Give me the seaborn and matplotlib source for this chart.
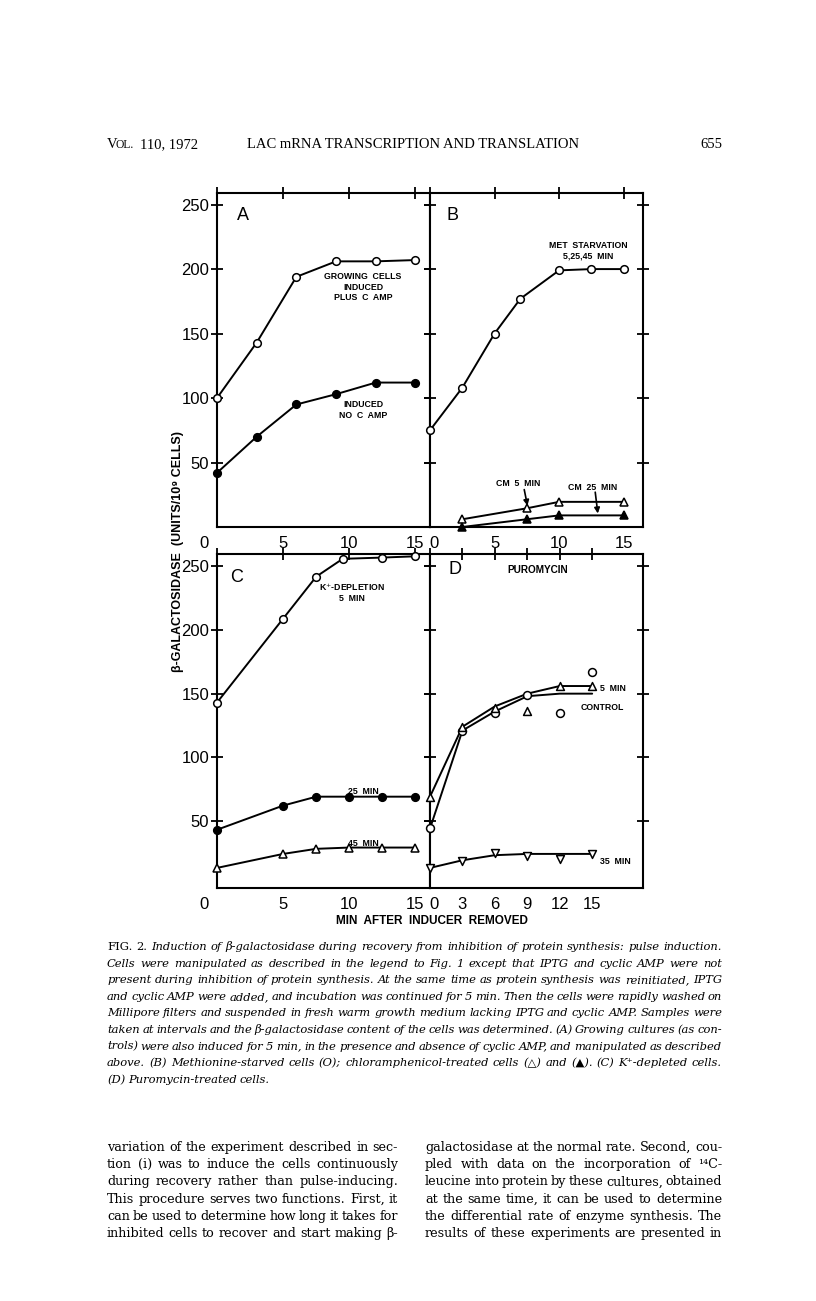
import matplotlib
matplotlib.use('Agg')
import matplotlib.pyplot as plt
import seaborn as sns
import numpy as np

sns.set_style('ticks')
plt.rcParams['font.family'] = ['Liberation Sans', 'DejaVu Sans']
plt.rcParams['text.color'] = 'black'
plt.rcParams['axes.labelcolor'] = 'black'
plt.rcParams['xtick.color'] = 'black'
plt.rcParams['ytick.color'] = 'black'

# ---------------- data ----------------
a_x = [0, 3, 6, 9, 12, 15]
a_plus_camp = [100, 143, 194, 206, 206, 207]
a_no_camp = [42, 70, 95, 103, 112, 112]

b_met_x = [0, 2.5, 5, 7, 10, 12.5, 15]
b_met = [75, 108, 150, 177, 199, 200, 200]
b_cm_x = [2.5, 7.5, 10, 15]
b_cm5 = [6, 14.5, 19.5, 19.5]
b_cm25 = [0, 6, 9, 9]

c_k5_x = [0, 5, 7.5, 9.5, 12.5, 15]
c_k5 = [143, 209, 242, 256, 257, 258]
c_x = [0, 5, 7.5, 10, 12.5, 15]
c_k25 = [43, 62, 69, 69, 69, 69]
c_k45 = [13, 24, 28, 29, 29, 29]

d_x = [0, 3, 6, 9, 12, 15]
d_ctrl_pts = [44, 121, 135, 149, 135, 167]
d_ctrl_curve = [44, 121, 136, 148, 150, 150]
d_5_pts = [69, 124, 139, 136, 156, 156]
d_5_curve = [69, 124, 140, 150, 156, 156]
d_35_pts = [13, 18.5, 25, 22, 20, 24]
d_35_curve = [13, 19, 23, 24, 24, 24]

y_ticks = [50, 100, 150, 200, 250]
x_ticks_abc = [0, 5, 10, 15]
x_ticks_d = [0, 3, 6, 9, 12, 15]

header_mid = "LAC mRNA TRANSCRIPTION AND TRANSLATION"
header_right = "655"

caption_lines = [
    "FIG. 2. Induction of β-galactosidase during recovery from inhibition of protein synthesis: pulse induction.",
    "Cells were manipulated as described in the legend to Fig. 1 except that IPTG and cyclic AMP were not",
    "present during inhibition of protein synthesis. At the same time as protein synthesis was reinitiated, IPTG",
    "and cyclic AMP were added, and incubation was continued for 5 min. Then the cells were rapidly washed on",
    "Millipore filters and suspended in fresh warm growth medium lacking IPTG and cyclic AMP. Samples were",
    "taken at intervals and the β-galactosidase content of the cells was determined. (A) Growing cultures (as con-",
    "trols) were also induced for 5 min, in the presence and absence of cyclic AMP, and manipulated as described",
    "above. (B) Methionine-starved cells (O); chloramphenicol-treated cells (△) and (▲). (C) K⁺-depleted cells.",
    "(D) Puromycin-treated cells.",
]
body_left = [
    "variation of the experiment described in sec-",
    "tion (i) was to induce the cells continuously",
    "during recovery rather than pulse-inducing.",
    "This procedure serves two functions. First, it",
    "can be used to determine how long it takes for",
    "inhibited cells to recover and start making β-",
]
body_right = [
    "galactosidase at the normal rate. Second, cou-",
    "pled with data on the incorporation of ¹⁴C-",
    "leucine into protein by these cultures, obtained",
    "at the same time, it can be used to determine",
    "the differential rate of enzyme synthesis. The",
    "results of these experiments are presented in",
]

# ---------------- figure ----------------
W, H = 816, 1301
fig = plt.figure(figsize=(W / 100, H / 100), dpi=100)
fig.patch.set_facecolor('white')
SERIF = ['DejaVu Serif', 'Liberation Serif', 'DejaVu Sans']
HSERIF = ['Liberation Serif', 'DejaVu Serif']


def axpx(l, t, r, b):
    return fig.add_axes([l / W, 1 - b / H, (r - l) / W, (b - t) / H])


def ftext(x, y, s, **kw):
    kw.setdefault('color', 'black')
    return fig.text(x / W, 1 - y / H, s, **kw)


axA = axpx(217, 193, 430, 527)
axB = axpx(430, 193, 643, 527)
axC = axpx(217, 554, 430, 888)
axD = axpx(430, 554, 643, 888)

LW = 1.4
MS = 5.5


def curve(ax, x, y, marker, filled):
    kw = dict(color='black', lw=LW, marker=marker, markersize=MS,
              markerfacecolor='black' if filled else 'white',
              markeredgecolor='black', markeredgewidth=1.1, clip_on=False,
              sort=False, estimator=None, zorder=3)
    sns.lineplot(x=x, y=y, ax=ax, **kw)


def line_only(ax, x, y):
    sns.lineplot(x=x, y=y, ax=ax, color='black', lw=LW, sort=False,
                 estimator=None, clip_on=False, zorder=2)


def points(ax, x, y, marker):
    sns.scatterplot(x=x, y=y, ax=ax, marker=marker, s=32, facecolor='white',
                    edgecolor='black', linewidth=1.1, zorder=4, clip_on=False)


# Panel A
curve(axA, a_x, a_plus_camp, 'o', False)
curve(axA, a_x, a_no_camp, 'o', True)
# Panel B
curve(axB, b_met_x, b_met, 'o', False)
curve(axB, b_cm_x, b_cm5, '^', False)
curve(axB, b_cm_x, b_cm25, '^', True)
# Panel C
curve(axC, c_k5_x, c_k5, 'o', False)
curve(axC, c_x, c_k25, 'o', True)
curve(axC, c_x, c_k45, '^', False)
# Panel D
line_only(axD, d_x, d_ctrl_curve)
line_only(axD, d_x, d_5_curve)
line_only(axD, d_x, d_35_curve)
points(axD, d_x, d_ctrl_pts, 'o')
points(axD, d_x, d_5_pts, '^')
points(axD, d_x, d_35_pts, 'v')

limits = {axA: (0, 16.1, 0, 259), axB: (0, 16.5, 0, 259),
          axC: (0, 16.1, -2.8, 259.8), axD: (0, 19.7, -2.8, 259.8)}
for ax, (x0, x1, y0, y1) in limits.items():
    ax.set_xlim(x0, x1)
    ax.set_ylim(y0, y1)
    ax.set_xlabel('')
    ax.set_ylabel('')
    for sp in ax.spines.values():
        sp.set_visible(True)
        sp.set_linewidth(1.5)
        sp.set_color('black')
    ax.set_yticks(y_ticks)
    left_lab = ax in (axA, axC)
    ax.tick_params(axis='y', left=True, right=True, direction='inout', length=9,
                   width=1.3, labelleft=left_lab, labelright=False, labelsize=12,
                   pad=1, colors='black')
    xt = x_ticks_d if ax is axD else x_ticks_abc
    ax.set_xticks(xt)
    ax.set_xticklabels([''] + [str(v) for v in xt[1:]])
    ax.tick_params(axis='x', bottom=False, top=True, direction='inout', length=9,
                   width=1.3, labelbottom=True, labeltop=False, labelsize=12,
                   pad=2, colors='black')
    ax.set_facecolor('white')
    dx = -9 if left_lab else 3
    ax.annotate('0', xy=(0, 0), xycoords=('data', 'axes fraction'),
                xytext=(dx, -6.5), textcoords='offset points', ha='center',
                va='top', fontsize=12, color='black')

# panel letters and annotations
ftext(243, 215, 'A', fontsize=13, ha='center', va='center')
ftext(453, 215, 'B', fontsize=13, ha='center', va='center')
ftext(237, 577, 'C', fontsize=13, ha='center', va='center')
ftext(455, 570, 'D', fontsize=13, ha='center', va='center')

bold = dict(fontsize=6.3, fontweight='bold', ha='center', va='center', linespacing=1.2)
ftext(363, 287, 'GROWING  CELLS\nINDUCED\nPLUS  C  AMP', **bold)
ftext(363, 410, 'INDUCED\nNO  C  AMP', **bold)
ftext(588, 251, 'MET  STARVATION\n5,25,45  MIN', **bold)
ftext(518, 484, 'CM  5  MIN', **bold)
ftext(593, 487, 'CM  25  MIN', **bold)
ftext(352, 592, 'K$^{+}$-DEPLETION\n5  MIN', **bold)
ftext(363, 792, '25  MIN', **bold)
ftext(363, 843, '45  MIN', **bold)
ftext(538, 570, 'PUROMYCIN', fontsize=7.2, fontweight='bold', ha='center', va='center')
ftext(600, 689, '5  MIN', fontsize=6.3, fontweight='bold', ha='left', va='center')
ftext(602, 708, 'CONTROL', **bold)
ftext(600, 861, '35  MIN', fontsize=6.3, fontweight='bold', ha='left', va='center')

arrow = dict(arrowstyle='-|>', color='black', lw=1.2, mutation_scale=8,
             shrinkA=0, shrinkB=0)
axB.annotate('', xy=(7.55, 16.5), xytext=(7.3, 29), arrowprops=arrow)
axB.annotate('', xy=(13.0, 10.5), xytext=(12.8, 27), arrowprops=arrow)

ftext(432, 921, 'MIN  AFTER  INDUCER  REMOVED', fontsize=8.5, fontweight='bold',
      ha='center', va='center')
ftext(178, 552, 'β-GALACTOSIDASE  (UNITS/10⁹ CELLS)', fontsize=9,
      fontweight='bold', rotation=90, ha='center', va='center')

# ---------------- header ----------------
ftext(107, 148, 'V', fontsize=10.5, family=HSERIF, va='baseline', ha='left')
ftext(115.5, 148, 'OL.', fontsize=8.3, family=HSERIF, va='baseline', ha='left')
ftext(140, 148, '110, 1972', fontsize=10.5, family=HSERIF, va='baseline', ha='left')
ftext(413, 148, header_mid, fontsize=10.5, family=HSERIF, va='baseline', ha='center')
ftext(722, 148, header_right, fontsize=10.5, family=HSERIF, va='baseline', ha='right')

renderer = fig.canvas.get_renderer()


def word_widths(words, size, styles):
    out = []
    for w, st in zip(words, styles):
        t = fig.text(0, 0, w, fontsize=size, family=SERIF, style=st)
        out.append(t.get_window_extent(renderer).width)
        t.remove()
    return out


def styles_for(words, italic, upright_first):
    return ['normal' if (i < upright_first or not italic) else 'italic'
            for i in range(len(words))]


def fit_size(lines, width, italic, s0=10.0, upright_first_line0=0):
    ratios = []
    for i, ln in enumerate(lines):
        words = ln.split(' ')
        st = styles_for(words, italic, upright_first_line0 if i == 0 else 0)
        ws = word_widths(words, s0, st)
        nat = sum(ws) + (len(words) - 1) * s0 * 100 / 72 * 0.25
        ratios.append(width / nat)
    return s0 * float(np.median(ratios)) * 0.985


def set_line(line, x0, x1, ybase, size, italic=True, justify=True, upright_first=0):
    words = line.split(' ')
    st = styles_for(words, italic, upright_first)
    texts = [ftext(0, ybase, w, fontsize=size, family=SERIF, style=s,
                   va='baseline', ha='left') for w, s in zip(words, st)]
    widths = [t.get_window_extent(renderer).width for t in texts]
    if justify and len(words) > 1:
        gap = (x1 - x0 - sum(widths)) / (len(words) - 1)
    else:
        gap = size * 100 / 72 * 0.25
    x = x0
    for t, w in zip(texts, widths):
        t.set_x(x / W)
        x += w + gap


cap_size = fit_size(caption_lines[:-1], 615, True, upright_first_line0=2)
for i, ln in enumerate(caption_lines):
    last = i == len(caption_lines) - 1
    set_line(ln, 107, 722, 950 + 16.6 * i, cap_size, italic=True, justify=not last,
             upright_first=2 if i == 0 else 0)

body_size = fit_size(body_left + body_right, 293, False)
for i, ln in enumerate(body_left):
    set_line(ln, 107, 398, 1151 + 17.2 * i, body_size, italic=False, justify=True)
for i, ln in enumerate(body_right):
    set_line(ln, 425, 722, 1151 + 17.2 * i, body_size, italic=False, justify=True)

fig.savefig('out.png', dpi=100, facecolor='white')
